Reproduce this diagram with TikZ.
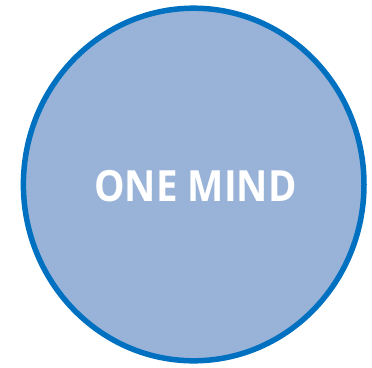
\documentclass[tikz,border=0pt]{standalone}
\usepackage{fontspec}
\setmainfont{Open Sans}
\definecolor{ringblue}{HTML}{0070C0}
\definecolor{fillblue}{HTML}{99B3D8}
\begin{document}
\begin{tikzpicture}[x=1pt,y=-1pt,
  mindcircle/.style={draw=ringblue, line width=5.5pt, fill=fillblue},
  mindlabel/.style={text=white, font=\bfseries\fontsize{43}{50}\selectfont, inner sep=0pt}]
\useasboundingbox (0,0) rectangle (372,367);
\draw[mindcircle] (193.7,184.5) ellipse [x radius=170.3, y radius=176.3];
\node[mindlabel, anchor=base] (mind) at (195.5,201.7) {\scalebox{0.895}[1]{ONE MIND}};
\end{tikzpicture}
\end{document}
